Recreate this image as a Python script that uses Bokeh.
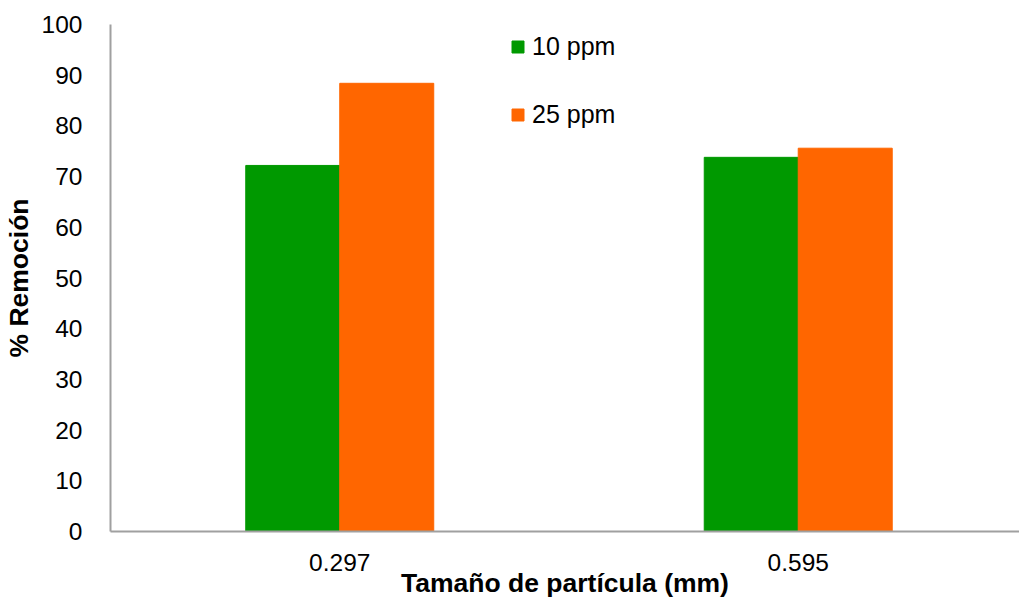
from bokeh.plotting import figure
from bokeh.models import ColumnDataSource, Range1d, Legend, LegendItem, FixedTicker
from bokeh.transform import dodge
from bokeh.embed import file_html
from bokeh.resources import INLINE

categories = ["0.297", "0.595"]
series_names = ["10 ppm", "25 ppm"]
values_10ppm = [72.2, 73.8]
values_25ppm = [88.4, 75.6]
y_ticks = [0, 10, 20, 30, 40, 50, 60, 70, 80, 90, 100]

colors = ["#009900", "#FF6600"]
FONT = "Liberation Sans"

positions = list(range(len(categories)))
source = ColumnDataSource(dict(pos=positions, cat=categories,
                               v10=values_10ppm, v25=values_25ppm))

p = figure(width=1019, height=600, x_range=Range1d(-0.5, 1.4826),
           y_range=Range1d(0, 100), output_backend="svg", toolbar_location=None,
           min_border_left=109, min_border_right=0, min_border_top=24,
           min_border_bottom=69)
p.outline_line_color = None
p.xgrid.grid_line_color = None
p.ygrid.grid_line_color = None

r1 = p.vbar(x=dodge("pos", -0.1025), top="v10", width=0.205,
            source=source, fill_color=colors[0], line_color=colors[0])
r2 = p.vbar(x=dodge("pos", 0.1025), top="v25", width=0.205,
            source=source, fill_color=colors[1], line_color=colors[1])

for ax in (p.xaxis[0], p.yaxis[0]):
    ax.axis_line_color = "#a0a0a0"
    ax.axis_line_width = 2
    ax.major_tick_line_color = None
    ax.minor_tick_line_color = None
    ax.major_label_text_font = FONT
    ax.major_label_text_font_size = "24.5px"
    ax.major_label_text_color = "#000000"
    ax.axis_label_text_font = FONT
    ax.axis_label_text_font_size = "26.5px"
    ax.axis_label_text_font_style = "bold"
    ax.axis_label_text_color = "#000000"

p.yaxis.ticker = FixedTicker(ticks=y_ticks)
p.yaxis.axis_label = "% Remoción"
p.yaxis.major_label_standoff = 22
p.yaxis.axis_label_standoff = 5

p.xaxis.ticker = FixedTicker(ticks=positions)
p.xaxis.major_label_overrides = {i: c for i, c in zip(positions, categories)}
p.xaxis.axis_label = "Tamaño de partícula (mm)"
p.xaxis.major_label_standoff = 16
p.xaxis.axis_label_standoff = -6

legend = Legend(items=[LegendItem(label=series_names[0], renderers=[r1]),
                       LegendItem(label=series_names[1], renderers=[r2])],
                location=(400, 402), orientation="vertical")
legend.glyph_width = 15
legend.glyph_height = 15
legend.label_height = 26
legend.spacing = 39
legend.padding = 0
legend.margin = 0
legend.label_standoff = 7
legend.label_text_font = FONT
legend.label_text_font_size = "25px"
legend.label_text_color = "#000000"
legend.border_line_color = None
legend.background_fill_alpha = 0
p.add_layout(legend)

open("out.html", "w").write(file_html(p, INLINE))
